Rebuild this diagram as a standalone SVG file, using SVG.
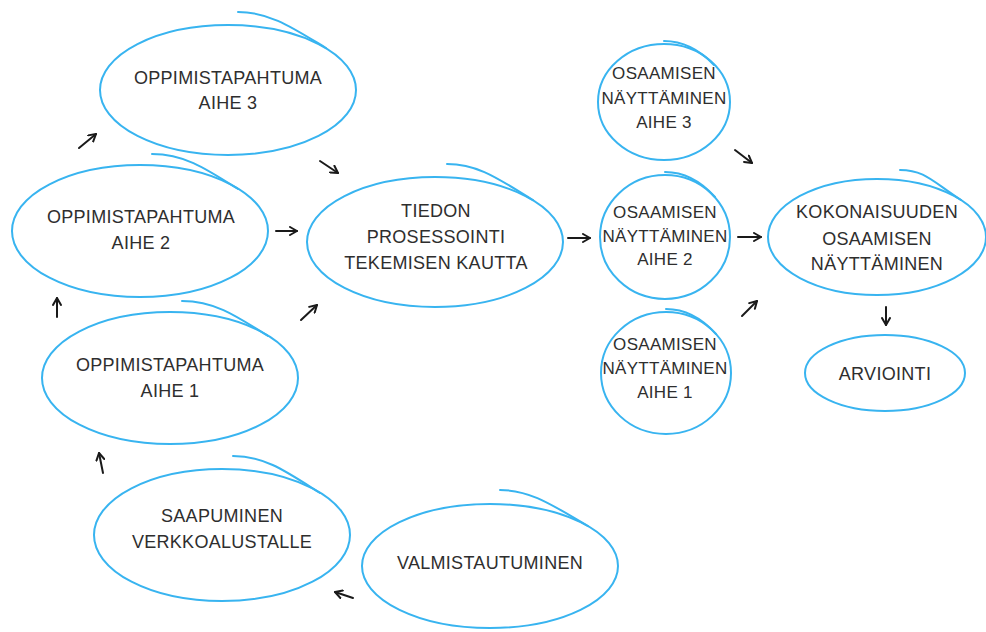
<svg xmlns="http://www.w3.org/2000/svg" width="986" height="632" viewBox="0 0 986 632">
  <defs>
    <style>
      .ring { fill: none; stroke: #38b4f0; stroke-width: 2; }
      .tail { fill: none; stroke: #38b4f0; stroke-width: 2; stroke-linecap: round; }
      .lbl { font-family: "Liberation Sans", Arial, sans-serif; font-size: 18px; fill: #2e2e2e; text-anchor: middle; letter-spacing: 0.3px; }
      .sm { font-size: 17px; }
      .arrow { fill: none; stroke: #1a1a1a; stroke-width: 2; stroke-linecap: round; marker-end: url(#head); }
    </style>
    <marker id="head" viewBox="0 0 10 10" refX="8" refY="5" markerWidth="5" markerHeight="5" orient="auto" markerUnits="strokeWidth">
      <path d="M1,1 L8,5 L1,9" fill="none" stroke="#1a1a1a" stroke-width="2" stroke-linecap="round" stroke-linejoin="round"/>
    </marker>
  </defs>
  <rect width="986" height="632" fill="#ffffff"/>

  <!-- each ring: a closed ellipse plus an overshooting stroke that rejoins it on the upper right -->
  <g id="aihe3">
    <ellipse class="ring" cx="228" cy="90" rx="128" ry="65"/>
    <path class="tail" d="M238,12 C270,12 293,28 326,48"/>
    <text class="lbl" x="228" y="84">OPPIMISTAPAHTUMA</text>
    <text class="lbl" x="228" y="109">AIHE 3</text>
  </g>

  <g id="aihe2">
    <ellipse class="ring" cx="140" cy="231" rx="128" ry="66"/>
    <path class="tail" d="M152,154 C184,154 205,168 238,189"/>
    <text class="lbl" x="141" y="223">OPPIMISTAPAHTUMA</text>
    <text class="lbl" x="141" y="249">AIHE 2</text>
  </g>

  <g id="aihe1">
    <ellipse class="ring" cx="170" cy="378" rx="128" ry="66"/>
    <path class="tail" d="M182,301 C214,301 235,315 268,336"/>
    <text class="lbl" x="170" y="371">OPPIMISTAPAHTUMA</text>
    <text class="lbl" x="170" y="397">AIHE 1</text>
  </g>

  <g id="saapuminen">
    <ellipse class="ring" cx="222" cy="535" rx="128" ry="66"/>
    <path class="tail" d="M233,456 C265,456 287,472 320,493"/>
    <text class="lbl" x="222" y="522">SAAPUMINEN</text>
    <text class="lbl" x="222" y="548">VERKKOALUSTALLE</text>
  </g>

  <g id="valmistautuminen">
    <ellipse class="ring" cx="490" cy="566" rx="128" ry="62"/>
    <path class="tail" d="M500,490 C532,490 555,507 588,526"/>
    <text class="lbl" x="490" y="569">VALMISTAUTUMINEN</text>
  </g>

  <g id="tiedon">
    <ellipse class="ring" cx="435" cy="242" rx="128" ry="65"/>
    <path class="tail" d="M447,164 C479,164 500,180 533,200"/>
    <text class="lbl" x="436" y="217">TIEDON</text>
    <text class="lbl" x="436" y="243">PROSESSOINTI</text>
    <text class="lbl" x="436" y="269">TEKEMISEN KAUTTA</text>
  </g>

  <g id="osaaminen3">
    <ellipse class="ring" cx="664" cy="102" rx="66" ry="58"/>
    <path class="tail" d="M664,41 C680,41 697,47 714,65"/>
    <text class="lbl sm" x="664" y="79">OSAAMISEN</text>
    <text class="lbl sm" x="664" y="104">NÄYTTÄMINEN</text>
    <text class="lbl sm" x="664" y="128">AIHE 3</text>
  </g>

  <g id="osaaminen2">
    <ellipse class="ring" cx="665" cy="237" rx="65" ry="62"/>
    <path class="tail" d="M665,172 C681,172 698,178 715,197"/>
    <text class="lbl sm" x="665" y="218">OSAAMISEN</text>
    <text class="lbl sm" x="665" y="242">NÄYTTÄMINEN</text>
    <text class="lbl sm" x="665" y="265">AIHE 2</text>
  </g>

  <g id="osaaminen1">
    <ellipse class="ring" cx="666" cy="373" rx="65" ry="61"/>
    <path class="tail" d="M666,309 C682,309 699,315 716,334"/>
    <text class="lbl sm" x="665" y="350">OSAAMISEN</text>
    <text class="lbl sm" x="665" y="374">NÄYTTÄMINEN</text>
    <text class="lbl sm" x="665" y="398">AIHE 1</text>
  </g>

  <g id="kokonaisuus">
    <ellipse class="ring" cx="877" cy="237" rx="109" ry="58"/>
    <path class="tail" d="M900,170 C925,170 933,182 961,200"/>
    <text class="lbl" x="877" y="218">KOKONAISUUDEN</text>
    <text class="lbl" x="877" y="245">OSAAMISEN</text>
    <text class="lbl" x="877" y="270">NÄYTTÄMINEN</text>
  </g>

  <g id="arviointi">
    <ellipse class="ring" cx="885" cy="373" rx="80" ry="38"/>
    <text class="lbl" x="885" y="380">ARVIOINTI</text>
  </g>

  <g id="connectors">
    <line class="arrow" x1="57" y1="317" x2="57" y2="298"/>
    <line class="arrow" x1="103" y1="473" x2="99" y2="453"/>
    <line class="arrow" x1="353" y1="598" x2="335" y2="592"/>
    <line class="arrow" x1="79" y1="148" x2="96" y2="134"/>
    <line class="arrow" x1="320" y1="161" x2="338" y2="173"/>
    <line class="arrow" x1="276" y1="231" x2="297" y2="231"/>
    <line class="arrow" x1="301" y1="320" x2="317" y2="305"/>
    <line class="arrow" x1="568" y1="238" x2="590" y2="238"/>
    <line class="arrow" x1="735" y1="150" x2="752" y2="163"/>
    <line class="arrow" x1="738" y1="237" x2="761" y2="237"/>
    <line class="arrow" x1="742" y1="316" x2="757" y2="301"/>
    <line class="arrow" x1="886" y1="307" x2="886" y2="325"/>
  </g>
</svg>
